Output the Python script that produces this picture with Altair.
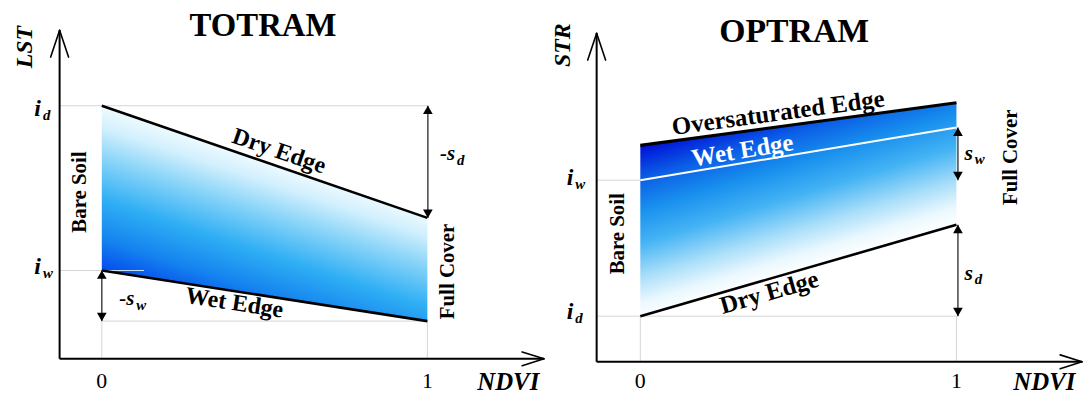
import altair as alt
import pandas as pd

# ---------------- data (schematic values) ----------------
NDVI = [0, 1]
NDVI_TICK_LABELS = ["0", "1"]

# TOTRAM: LST against NDVI
TOT_DRY_EDGE = [25.5, 14.2]
TOT_WET_EDGE = [8.9, 3.8]
TOT_Y_TOP = 33.1

# OPTRAM: STR against NDVI
OPT_OVERSAT_EDGE = [21.8, 26.1]
OPT_WET_EDGE = [18.3, 23.6]
OPT_DRY_EDGE = [4.6, 13.8]
OPT_Y_TOP = 33.1

TITLES = ["TOTRAM", "OPTRAM"]
Y_TITLES = ["LST", "STR"]
X_TITLE = "NDVI"
EDGE_NAMES = ["Dry Edge", "Wet Edge", "Oversaturated Edge"]
SIDE_NAMES = ["Bare Soil", "Full Cover"]

SERIF = "Liberation Serif"
H = 386
W_L, W_R = 545, 539


def scales(xdom, ydom):
    return (alt.Scale(domain=xdom, nice=False, zero=False),
            alt.Scale(domain=ydom, nice=False, zero=False))


def enc_xy(xs, ys):
    return dict(x=alt.X("x:Q", scale=xs, axis=None), y=alt.Y("y:Q", scale=ys, axis=None))


def segs(rows, xs, ys, color="black", width=1.0, cap="butt"):
    df = pd.DataFrame(rows, columns=["x", "y", "x2", "y2"])
    return alt.Chart(df).mark_rule(color=color, strokeWidth=width, strokeCap=cap).encode(
        x2="x2:Q", y2="y2:Q", **enc_xy(xs, ys))


def txt(s, x, y, xs, ys, size=20, weight="bold", style="normal", angle=0,
        color="black", align="center", baseline="middle"):
    df = pd.DataFrame({"x": [x], "y": [y], "t": [s]})
    return alt.Chart(df).mark_text(font=SERIF, fontSize=size, fontWeight=weight,
                                   fontStyle=style, angle=angle, color=color,
                                   align=align, baseline=baseline).encode(
        text="t:N", **enc_xy(xs, ys))


def dbl_arrow(x, ytop, ybot, xs, ys):
    shaft = segs([[x, ytop, x, ybot]], xs, ys, color="#444444", width=1.5)
    up = alt.Chart(pd.DataFrame({"x": [x], "y": [ytop]})).mark_point(
        shape="triangle-up", filled=True, size=95, color="black", opacity=1,
        yOffset=4.2).encode(**enc_xy(xs, ys))
    dn = alt.Chart(pd.DataFrame({"x": [x], "y": [ybot]})).mark_point(
        shape="triangle-down", filled=True, size=95, color="black", opacity=1,
        yOffset=-4.2).encode(**enc_xy(xs, ys))
    return [shaft, up, dn]


def axes(x0, xend, ytop, kx, xs, ys):
    # kx: data units per pixel on x, y uses 0.1 units per pixel
    return [
        segs([[x0, 0, xend, 0], [x0, 0, x0, ytop]], xs, ys, width=2),
        segs([[x0, ytop, x0 - 9 * kx, ytop - 2.7], [x0, ytop, x0 + 9 * kx, ytop - 2.7],
              [xend, 0, xend - 22 * kx, 0.7], [xend, 0, xend - 22 * kx, -0.7]],
             xs, ys, width=1.6, cap="round"),
    ]


def sub_label(main, sub, x, y, xs, ys, kx, off, size=24, subsize=15):
    return [txt(main, x, y, xs, ys, size=size, style="italic", align="right"),
            txt(sub, x + off * kx, y - 0.6, xs, ys, size=subsize, style="italic", align="left")]


def area(top, bottom, grad, xs, ys):
    df = pd.DataFrame({"x": NDVI, "y": top, "y2": bottom})
    return alt.Chart(df).mark_area(color=grad, opacity=1, line=False).encode(
        y2="y2:Q", **enc_xy(xs, ys))


# ---------------- TOTRAM panel ----------------
kxL = 1 / 328.0
xsL, ysL = scales([-0.2881, 1.3735], [-3.8, 34.8])
yaxL = -0.1296
gradL = alt.Gradient(
    gradient="linear", x1=1, y1=0, x2=0.5, y2=1,
    stops=[alt.GradientStop(offset=0, color="#ffffff"),
           alt.GradientStop(offset=0.38, color="#f7fdff"),
           alt.GradientStop(offset=0.48, color="#d2f0fd"),
           alt.GradientStop(offset=0.6, color="#86d3f8"),
           alt.GradientStop(offset=0.75, color="#2eaef4"),
           alt.GradientStop(offset=0.89, color="#1584ef"),
           alt.GradientStop(offset=1, color="#0650ec")])

left_layers = [
    segs([[yaxL, TOT_DRY_EDGE[0], NDVI[1], TOT_DRY_EDGE[0]],
          [yaxL, TOT_WET_EDGE[0], NDVI[0], TOT_WET_EDGE[0]],
          [NDVI[0], TOT_WET_EDGE[1], NDVI[1], TOT_WET_EDGE[1]],
          [NDVI[0], 0, NDVI[0], TOT_WET_EDGE[1]],
          [NDVI[1], 0, NDVI[1], TOT_WET_EDGE[1]]], xsL, ysL, color="#d6d6d6", width=1),
    area(TOT_DRY_EDGE, TOT_WET_EDGE, gradL, xsL, ysL),
    segs([[NDVI[0], TOT_WET_EDGE[0], 0.13, TOT_WET_EDGE[0]]], xsL, ysL, color="#cfe3f7", width=1),
    segs([[NDVI[0], TOT_DRY_EDGE[0], NDVI[1], TOT_DRY_EDGE[1]],
          [NDVI[0], TOT_WET_EDGE[0], NDVI[1], TOT_WET_EDGE[1]]], xsL, ysL, width=2.6),
    *axes(yaxL, 1.3582, TOT_Y_TOP, kxL, xsL, ysL),
    *dbl_arrow(1.0015, TOT_DRY_EDGE[0], TOT_DRY_EDGE[1], xsL, ysL),
    *dbl_arrow(0.0, TOT_WET_EDGE[0], TOT_WET_EDGE[1], xsL, ysL),
    txt(TITLES[0], 0.495, 33.5, xsL, ysL, size=33),
    txt(Y_TITLES[0], -0.236, 31.4, xsL, ysL, size=24, style="italic", angle=270),
    *sub_label("i", "d", -0.187, 25.2, xsL, ysL, kxL, 2),
    *sub_label("i", "w", -0.187, 9.2, xsL, ysL, kxL, 2),
    txt(SIDE_NAMES[0], -0.0655, 16.8, xsL, ysL, size=21, angle=270),
    txt(SIDE_NAMES[1], 1.0625, 8.8, xsL, ysL, size=21, angle=270),
    txt(EDGE_NAMES[0], 0.544, 20.9, xsL, ysL, size=24, angle=19),
    txt(EDGE_NAMES[1], 0.407, 5.6, xsL, ysL, size=24, angle=8.8),
    *sub_label("-s", "d", 1.085, 20.6, xsL, ysL, kxL, 2, size=21),
    *sub_label("-s", "w", 0.100, 6.0, xsL, ysL, kxL, 2, size=21),
    txt(X_TITLE, 1.2485, -2.3, xsL, ysL, size=25, style="italic"),
    txt(NDVI_TICK_LABELS[0], NDVI[0], -2.2, xsL, ysL, size=22, weight="normal"),
    txt(NDVI_TICK_LABELS[1], NDVI[1], -2.2, xsL, ysL, size=22, weight="normal"),
]
left = alt.layer(*left_layers).properties(width=W_L, height=H)

# ---------------- OPTRAM panel ----------------
kxR = 1 / 318.5
xsR, ysR = scales([-0.2889, 1.4035], [-3.5, 35.1])
yaxR = -0.1381
gradR = alt.Gradient(
    gradient="linear", x1=0, y1=0, x2=0.45, y2=1,
    stops=[alt.GradientStop(offset=0, color="#0000b0"),
           alt.GradientStop(offset=0.17, color="#0010d8"),
           alt.GradientStop(offset=0.3, color="#0b5fe6"),
           alt.GradientStop(offset=0.42, color="#1890ee"),
           alt.GradientStop(offset=0.55, color="#45b4f4"),
           alt.GradientStop(offset=0.68, color="#a8def9"),
           alt.GradientStop(offset=0.78, color="#eaf8fe"),
           alt.GradientStop(offset=0.85, color="#ffffff")])

right_layers = [
    segs([[yaxR, OPT_WET_EDGE[0], NDVI[0], OPT_WET_EDGE[0]],
          [yaxR, OPT_DRY_EDGE[0], NDVI[1], OPT_DRY_EDGE[0]],
          [NDVI[0], 0, NDVI[0], OPT_DRY_EDGE[0]],
          [NDVI[1], 0, NDVI[1], OPT_DRY_EDGE[0]]], xsR, ysR, color="#d6d6d6", width=1),
    area(OPT_OVERSAT_EDGE, OPT_DRY_EDGE, gradR, xsR, ysR),
    segs([[NDVI[0], OPT_WET_EDGE[0], NDVI[1], OPT_WET_EDGE[1]]], xsR, ysR, color="white", width=2),
    segs([[NDVI[0], OPT_OVERSAT_EDGE[0], NDVI[1], OPT_OVERSAT_EDGE[1]]], xsR, ysR, width=3.2),
    segs([[NDVI[0], OPT_DRY_EDGE[0], NDVI[1], OPT_DRY_EDGE[1]]], xsR, ysR, width=2.6),
    *axes(yaxR, 1.3972, OPT_Y_TOP, kxR, xsR, ysR),
    *dbl_arrow(1.0047, OPT_WET_EDGE[1], OPT_WET_EDGE[0], xsR, ysR),
    *dbl_arrow(1.0047, OPT_DRY_EDGE[1], OPT_DRY_EDGE[0], xsR, ysR),
    txt(TITLES[1], 0.4867, 33.2, xsR, ysR, size=34),
    txt(Y_TITLES[1], -0.245, 31.9, xsR, ysR, size=24, style="italic", angle=270),
    *sub_label("i", "w", -0.212, 18.5, xsR, ysR, kxR, 2),
    *sub_label("i", "d", -0.212, 5.0, xsR, ysR, kxR, 2),
    txt(SIDE_NAMES[0], -0.069, 12.9, xsR, ysR, size=21, angle=270),
    txt(SIDE_NAMES[1], 1.174, 20.6, xsR, ysR, size=21, angle=270),
    txt(EDGE_NAMES[2], 0.436, 25.1, xsR, ysR, size=25, angle=352.3),
    txt(EDGE_NAMES[1], 0.323, 21.3, xsR, ysR, size=25, angle=350.6, color="white"),
    txt(EDGE_NAMES[0], 0.408, 7.0, xsR, ysR, size=25, angle=343.9),
    *sub_label("s", "w", 1.052, 21.0, xsR, ysR, kxR, 2, size=22),
    *sub_label("s", "d", 1.052, 8.9, xsR, ysR, kxR, 2, size=22),
    txt(X_TITLE, 1.278, -2.0, xsR, ysR, size=25, style="italic"),
    txt(NDVI_TICK_LABELS[0], NDVI[0], -1.9, xsR, ysR, size=22, weight="normal"),
    txt(NDVI_TICK_LABELS[1], NDVI[1], -1.9, xsR, ysR, size=22, weight="normal"),
]
right = alt.layer(*right_layers).properties(width=W_R, height=H)

chart = (alt.hconcat(left, right, spacing=0, bounds="flush")
         .resolve_scale(x="independent", y="independent")
         .properties(padding=0)
         .configure_view(strokeWidth=0))

chart.save("out.html", embed_options={"renderer": "svg", "actions": False})
